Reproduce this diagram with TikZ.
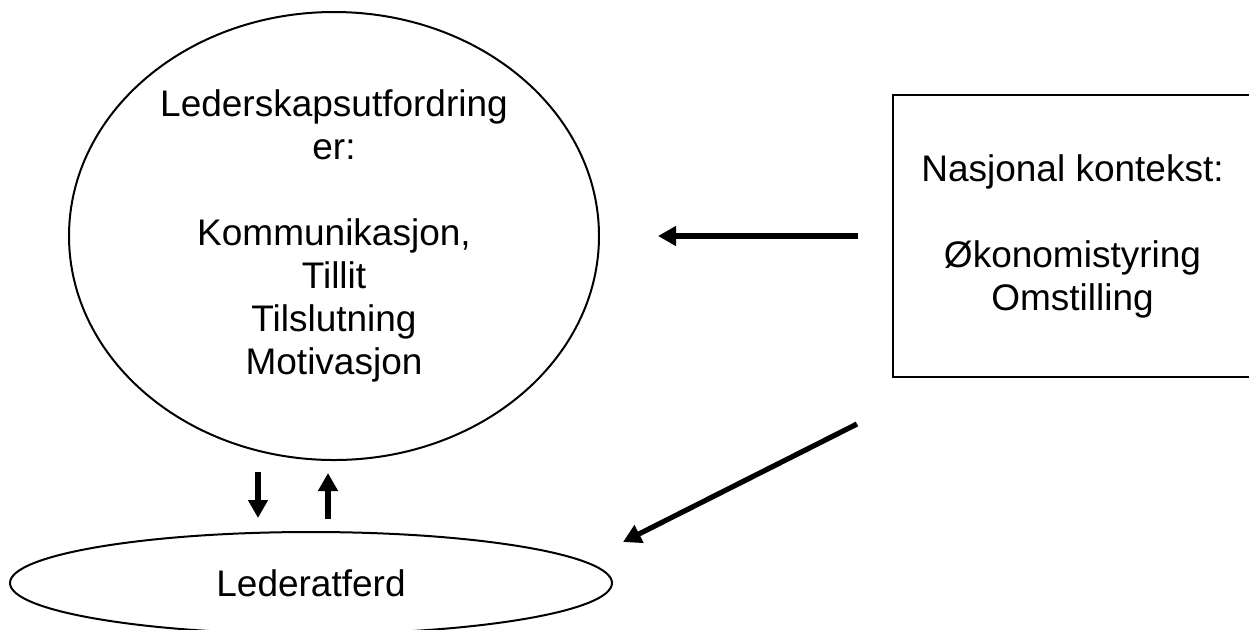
\documentclass[tikz,border=0pt]{standalone}
\usepackage{fontspec}
\setmainfont{Liberation Sans}
\usetikzlibrary{shapes.geometric,arrows.meta}

\tikzset{
    txt/.style={font=\fontsize{18.5}{21.5}\selectfont, align=center, inner sep=0pt},
    thin line/.style={draw, line width=1pt},
    fat arrow/.style={line width=2.6pt, -{Triangle[length=9pt,width=9.5pt]}}
}

\begin{document}
\begin{tikzpicture}[x=0.5pt, y=-0.5pt]
    \useasboundingbox (0,0) rectangle (1249,629);

    % Draw the shapes
    \node[thin line, ellipse, txt, minimum width=265pt, minimum height=224pt] (utfordring) at (334, 236)
        {Lederskapsutfordring\\er:\\[21.5pt]Kommunikasjon,\\Tillit\\Tilslutning\\Motivasjon};
    \node[thin line, rectangle, txt, minimum width=179.5pt, minimum height=141pt] (kontekst) at (1072.5, 236)
        {Nasjonal kontekst:\\[21.5pt]\O konomistyring\\Omstilling};
    \node[thin line, ellipse, txt, minimum width=301pt, minimum height=51pt] (atferd) at (311, 583) {Lederatferd};

    % Draw arrow ends
    \coordinate (kontekstA) at (858, 236);
    \coordinate (utfordringA) at (658, 236);
    \coordinate (kontekstB) at (857, 424);
    \coordinate (atferdB) at (623, 542);
    \coordinate (nedFra) at (258, 472);
    \coordinate (nedTil) at (258, 518);
    \coordinate (oppFra) at (328, 519);
    \coordinate (oppTil) at (328, 473);

    % Draw the arrows
    \draw[fat arrow] (kontekstA) -- (utfordringA);
    \draw[fat arrow] (kontekstB) -- (atferdB);
    \draw[fat arrow] (nedFra) -- (nedTil);
    \draw[fat arrow] (oppFra) -- (oppTil);
\end{tikzpicture}
\end{document}
